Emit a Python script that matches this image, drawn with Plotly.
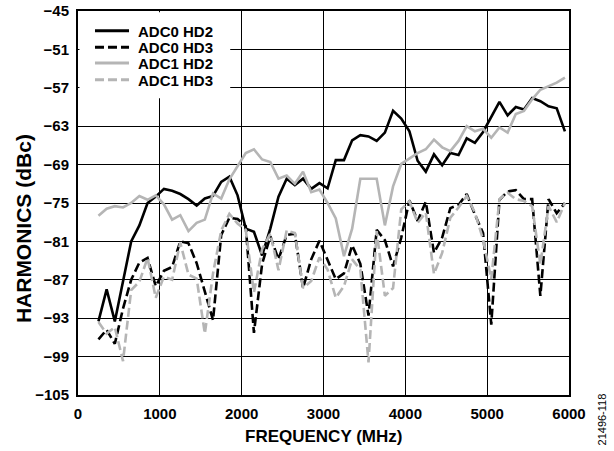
import plotly.graph_objects as pgo

freq = [250, 350, 450, 550, 650, 750, 850, 950, 1050, 1150,
        1250, 1350, 1450, 1550, 1650, 1750, 1850, 1950, 2050, 2150,
        2250, 2350, 2450, 2550, 2650, 2750, 2850, 2950, 3050, 3150,
        3250, 3350, 3450, 3550, 3650, 3750, 3850, 3950, 4050, 4150,
        4250, 4350, 4450, 4550, 4650, 4750, 4850, 4950, 5050, 5150,
        5250, 5350, 5450, 5550, 5650, 5750, 5850, 5950]

adc0_hd2 = [-93.5, -88.5, -93.5, -87.0, -81.0, -78.5, -75.0, -74.0, -72.8, -73.1,
            -73.6, -74.4, -75.4, -74.3, -73.9, -71.7, -70.9, -73.8, -79.0, -79.5,
            -83.2, -79.0, -74.0, -71.2, -72.2, -71.2, -72.8, -71.9, -72.7, -68.3,
            -68.3, -65.2, -64.4, -64.6, -65.3, -64.0, -60.6, -61.8, -63.8, -68.4,
            -70.1, -67.4, -69.1, -67.2, -67.5, -64.9, -65.6, -63.9, -61.5, -59.2,
            -61.3, -60.0, -60.4, -58.6, -59.1, -59.9, -60.2, -63.8]

adc0_hd3 = [-96.3, -94.8, -97.0, -91.5, -87.0, -84.3, -83.6, -88.0, -85.6, -85.0,
            -81.0, -81.3, -84.4, -88.8, -93.3, -80.0, -77.3, -77.5, -78.6, -95.3,
            -84.5, -80.2, -83.8, -80.0, -79.8, -88.3, -83.8, -80.9, -83.8, -86.9,
            -86.0, -81.6, -84.5, -92.6, -79.2, -80.8, -84.9, -80.4, -74.6, -77.8,
            -74.8, -82.8, -80.4, -75.8, -75.3, -73.6, -76.8, -79.7, -94.0, -74.5,
            -73.2, -73.0, -74.4, -74.4, -89.5, -74.4, -76.6, -75.0]

adc1_hd2 = [-77.0, -75.9, -75.5, -75.7, -75.0, -73.9, -74.5, -73.8, -75.2, -77.6,
            -76.9, -79.4, -78.1, -77.6, -73.5, -74.3, -71.3, -69.2, -67.2, -66.6,
            -68.2, -68.6, -71.2, -70.7, -72.0, -70.1, -73.3, -72.9, -75.0, -77.4,
            -83.3, -79.0, -71.2, -71.2, -71.2, -78.5, -72.4, -68.9, -68.1, -67.2,
            -66.6, -65.1, -66.3, -66.9, -65.3, -63.0, -63.8, -63.4, -64.8, -63.2,
            -64.0, -61.1, -60.6, -58.8, -57.3, -56.7, -56.2, -55.4]

adc1_hd3 = [-93.6, -95.4, -94.4, -99.7, -88.6, -87.3, -83.6, -89.8, -86.5, -87.0,
            -81.2, -86.2, -86.8, -95.4, -86.0, -79.3, -76.7, -78.2, -79.2, -89.0,
            -82.2, -79.8, -85.5, -79.3, -79.7, -88.3, -87.2, -83.5, -85.4, -89.8,
            -88.0, -83.8, -85.4, -99.9, -79.4, -89.5, -88.3, -76.0, -74.7, -78.1,
            -76.5, -86.1, -82.8, -77.3, -75.7, -73.9, -76.5, -80.7, -86.9, -74.4,
            -73.4, -74.4, -74.7, -75.5, -84.6, -75.5, -78.0, -75.0]

names = ["ADC0 HD2", "ADC0 HD3", "ADC1 HD2", "ADC1 HD3"]
colors = ["black", "black", "#b5b5b5", "#b5b5b5"]
dashes = ["solid", "9px,4px", "solid", "9px,4px"]
values = [adc0_hd2, adc0_hd3, adc1_hd2, adc1_hd3]

fig = pgo.Figure()
for name, vals, col, dash in zip(names, values, colors, dashes):
    fig.add_trace(pgo.Scatter(x=freq, y=vals, mode="lines", name=name,
                              line=dict(color=col, width=2.6, dash=dash)))

bold = dict(color="black", weight="bold")
axis_common = dict(showgrid=True, gridcolor="black", gridwidth=1.2,
                   showline=True, linecolor="black", linewidth=2, mirror=True,
                   ticks="", zeroline=False, ticklabelstandoff=4,
                   automargin=False, tickfont=dict(size=15, **bold))

fig.update_xaxes(range=[0, 6000], dtick=1000, tick0=0, **axis_common)
fig.update_yaxes(range=[-105, -45], dtick=6, tick0=-105, **axis_common)

# axis titles
fig.add_annotation(text="FREQUENCY (MHz)", xref="paper", yref="paper",
                   x=0.5, y=-0.109, showarrow=False,
                   xanchor="center", yanchor="middle", font=dict(size=17, **bold))
fig.add_annotation(text="HARMONICS (dBc)", xref="paper", yref="paper",
                   x=-0.112, y=0.432, textangle=-90, showarrow=False,
                   xanchor="center", yanchor="middle", font=dict(size=21, **bold))
fig.add_annotation(text="21496-118", xref="paper", yref="paper",
                   x=1.067, y=-0.064, textangle=-90, showarrow=False,
                   xanchor="center", yanchor="middle",
                   font=dict(size=11, color="black"))

# legend box, drawn by hand to keep the tight row spacing
fig.add_shape(type="rect", xref="paper", yref="paper", x0=0.003, x1=0.31,
              y0=0.773, y1=0.997, fillcolor="white", line=dict(width=0),
              layer="above")
rows = [0.9487, 0.9055, 0.8646, 0.8211]
for name, col, dash, yy in zip(names, colors, dashes, rows):
    fig.add_shape(type="line", xref="paper", yref="paper",
                  x0=0.0346, x1=0.1039, y0=yy, y1=yy, layer="above",
                  line=dict(color=col, width=3, dash=dash))
    fig.add_annotation(text=name, xref="paper", yref="paper", x=0.1181, y=yy,
                       showarrow=False, xanchor="left", yanchor="middle",
                       height=16, font=dict(size=15, **bold))

fig.update_layout(
    width=614, height=451, autosize=False,
    margin=dict(l=78, r=45, t=11, b=56, autoexpand=False),
    plot_bgcolor="white", paper_bgcolor="white",
    font=dict(family="Liberation Sans, Arial, sans-serif", color="black"),
    showlegend=False,
)

fig.write_html("out.html", config={"displayModeBar": False},
               post_script="document.body.style.margin='0px';")
